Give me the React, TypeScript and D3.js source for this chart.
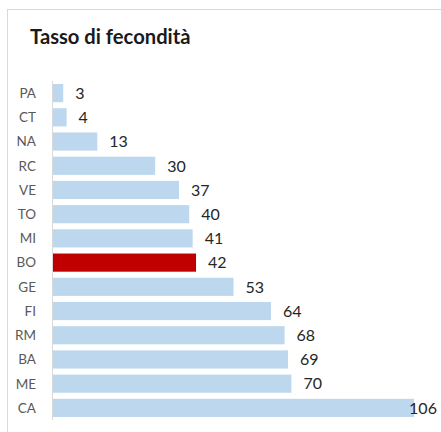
import React from "react";
import * as d3 from "d3";

const categories = ["PA", "CT", "NA", "RC", "VE", "TO", "MI", "BO", "GE", "FI", "RM", "BA", "ME", "CA"];
const values = [3, 4, 13, 30, 37, 40, 41, 42, 53, 64, 68, 69, 70, 106];
const highlight = "BO";
const title = "Tasso di fecondità";

const W = 441;
const H = 432;

export default function App() {
  const x = d3.scaleLinear().domain([0, 106]).range([53, 414]);
  const y = d3.scaleBand<string>().domain(categories).range([81, 420]).paddingInner(0.25).paddingOuter(0.125);
  const font = "Lato, 'Open Sans', sans-serif";
  return (
    <svg width={W} height={H} style={{ position: "fixed", left: 0, top: 0, background: "#fff" }}>
      <rect x={7.5} y={9.5} width={W} height={H} fill="#fff" stroke="#d9d9d9" strokeWidth={1} />
      <text x={30} y={43.5} fontFamily={font} fontWeight={700} fontSize={20.2} fill="#1a1a1a">{title}</text>
      {categories.map((c, i) => {
        const v = values[i];
        const yb = y(c)!;
        const bw = y.bandwidth();
        const labelX = Math.min(x(v) + 12, 437 - String(v).length * 9.3);
        return (
          <g key={c}>
            <rect x={x(0)} y={yb} width={x(v) - x(0)} height={bw}
              fill={c === highlight ? "#c00000" : "#bdd7ee"} />
            <text x={36} y={yb + bw / 2} dy="0.36em" textAnchor="end" fontFamily={font} fontSize={13.5} fill="#595959">{c}</text>
            <text x={labelX} y={yb + bw / 2} dy="0.36em" fontFamily={font} fontSize={16} fill="#262626">{v}</text>
          </g>
        );
      })}
      <line x1={52.5} x2={52.5} y1={81} y2={420} stroke="#d9d9d9" strokeWidth={1} />
    </svg>
  );
}
